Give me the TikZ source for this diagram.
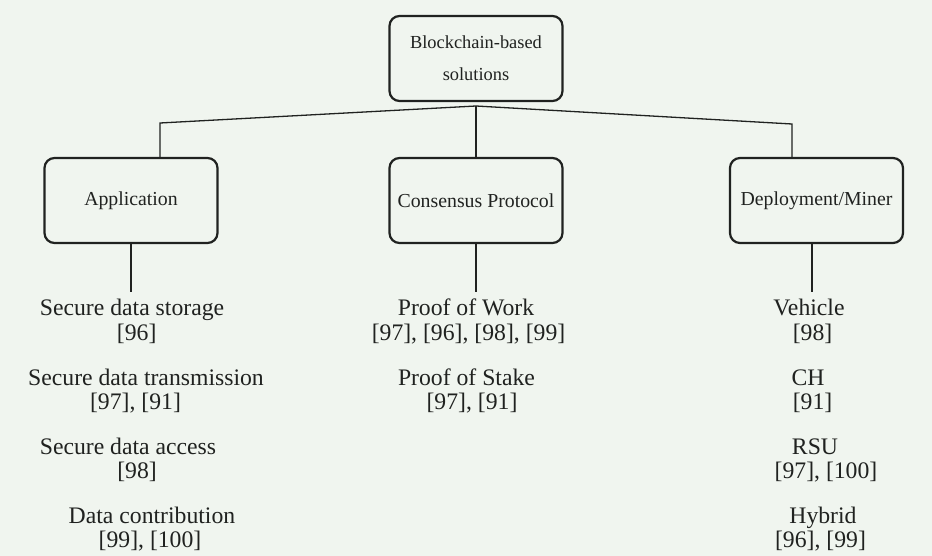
\documentclass[tikz,border=0pt]{standalone}
\usepackage{fontspec}
\setmainfont{Liberation Serif}
\definecolor{bgcol}{RGB}{240,245,239}
\definecolor{ink}{RGB}{32,34,32}
\begin{document}
\begin{tikzpicture}[x=1pt,y=-1pt,
    box/.style={draw=ink,line width=2.2pt,rounded corners=10pt,minimum width=173pt,minimum height=85pt,inner sep=0pt,text=ink,font=\fontsize{19.8}{24}\selectfont},
    item/.style={anchor=base,inner sep=0pt,text=ink,font=\fontsize{23.7}{28}\selectfont},
    link/.style={draw=ink,line width=1.3pt}]
    \fill[bgcol] (0,0) rectangle (932,556);
    \useasboundingbox (0,0) rectangle (932,556);
    % boxes
    \node[box,align=center,font=\fontsize{18.4}{32}\selectfont] (root) at (476,58.5) {Blockchain-based\\solutions};
    \node[box] (app) at (131,200.5) {Application};
    \node[box] (cons) at (476,200.5) {Consensus Protocol};
    \node[box] (depl) at (816.5,200.5) {Deployment/Miner};
    % tree
    \coordinate (fork) at (476,106);
    \coordinate (forkL) at (160,123);
    \coordinate (forkR) at (792,124);
    \draw[link] (fork) -- (forkL) -- (forkL |- app.north);
    \draw[link] (fork) -- (forkR) -- (forkR |- depl.north);
    \draw[link] (fork) -- (cons.north);
    \draw[link] (app.south) -- ++(0,48);
    \draw[link] (cons.south) -- ++(0,48);
    \draw[link] ([xshift=-4.5pt]depl.south) -- ++(0,48);
    % application
    \node[item] (stor) at (132,316) {Secure data storage};
    \node[item] (storref) at (136.7,340) {[96]};
    \node[item] (trans) at (146,385) {Secure data transmission};
    \node[item] (transref) at (135.5,409) {[97], [91]};
    \node[item] (acc) at (128,454) {Secure data access};
    \node[item] (accref) at (137,478) {[98]};
    \node[item] (contr) at (152,523) {Data contribution};
    \node[item] (contrref) at (150,547) {[99], [100]};
    % consensus
    \node[item] (pow) at (466,316) {Proof of Work};
    \node[item] (powref) at (468.5,340) {[97], [96], [98], [99]};
    \node[item] (pos) at (466.5,385) {Proof of Stake};
    \node[item] (posref) at (472,409) {[97], [91]};
    % deployment
    \node[item] (veh) at (809,316) {Vehicle};
    \node[item] (vehref) at (812.5,340) {[98]};
    \node[item] (ch) at (808,385) {CH};
    \node[item] (chref) at (812.5,409) {[91]};
    \node[item] (rsu) at (815,454) {RSU};
    \node[item] (rsuref) at (826,478) {[97], [100]};
    \node[item] (hyb) at (823,523) {Hybrid};
    \node[item] (hybref) at (820.5,547) {[96], [99]};
\end{tikzpicture}
\end{document}
